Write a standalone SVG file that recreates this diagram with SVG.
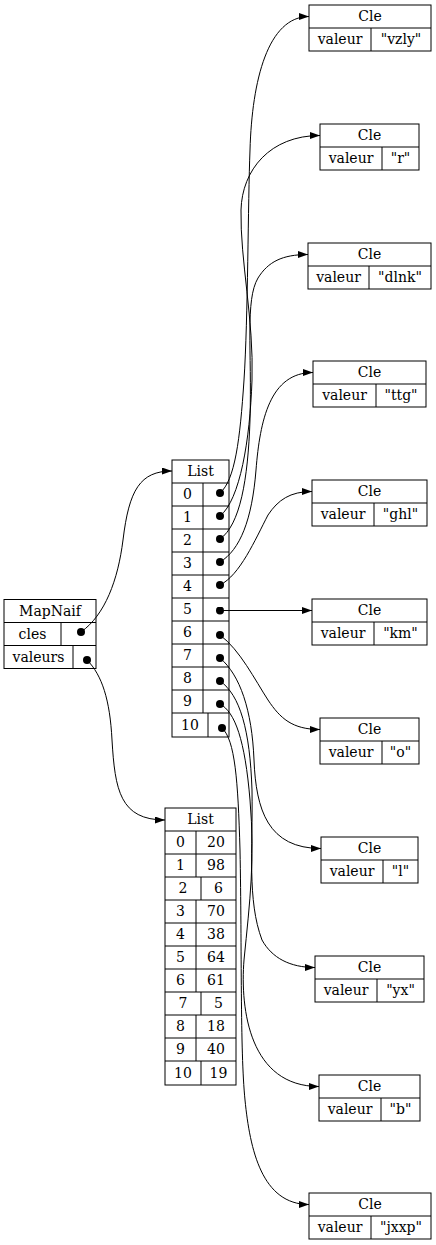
<svg xmlns="http://www.w3.org/2000/svg" width="436" height="1245" viewBox="0 0 436 1245">
<style>
.b{fill:#fff;stroke:#000;stroke-width:1}
.l{stroke:#000;stroke-width:1}
text{font-family:"DejaVu Serif",serif;font-size:14px;text-anchor:middle;fill:#000}
.e path{fill:none;stroke:#000;stroke-width:1;marker-start:url(#dot);marker-end:url(#arr)}
</style>
<defs>
<marker id="arr" markerWidth="10" markerHeight="7" refX="10" refY="3.5" orient="auto" markerUnits="userSpaceOnUse"><polygon points="0,0 10,3.5 0,7" fill="#000"/></marker>
<marker id="dot" markerWidth="8" markerHeight="8" refX="4" refY="4" markerUnits="userSpaceOnUse"><circle cx="4" cy="4" r="4" fill="#000"/></marker>
</defs>
<rect width="436" height="1245" fill="#fff"/>

<g id="MapNaif">
<rect class="b" x="4" y="599.5" width="92" height="69"/>
<line class="l" x1="4" y1="622.5" x2="96" y2="622.5"/>
<line class="l" x1="4" y1="645.5" x2="96" y2="645.5"/>
<line class="l" x1="61" y1="622.5" x2="61" y2="645.5"/>
<line class="l" x1="73" y1="645.5" x2="73" y2="668.5"/>
<text x="50" y="616">MapNaif</text>
<text x="32.5" y="639">cles</text>
<text x="38.5" y="662">valeurs</text>
</g>

<g id="ListCles">
<rect class="b" x="172" y="460" width="57" height="277"/>
<line class="l" x1="172" y1="483" x2="229" y2="483"/>
<line class="l" x1="172" y1="506" x2="229" y2="506"/>
<line class="l" x1="172" y1="529" x2="229" y2="529"/>
<line class="l" x1="172" y1="552" x2="229" y2="552"/>
<line class="l" x1="172" y1="575" x2="229" y2="575"/>
<line class="l" x1="172" y1="598" x2="229" y2="598"/>
<line class="l" x1="172" y1="621" x2="229" y2="621"/>
<line class="l" x1="172" y1="644" x2="229" y2="644"/>
<line class="l" x1="172" y1="667" x2="229" y2="667"/>
<line class="l" x1="172" y1="690" x2="229" y2="690"/>
<line class="l" x1="172" y1="713" x2="229" y2="713"/>
<line class="l" x1="203" y1="483" x2="203" y2="713"/>
<line class="l" x1="208" y1="713" x2="208" y2="737"/>
<text x="200.5" y="476">List</text>
<text x="187.5" y="499">0</text>
<text x="187.5" y="522">1</text>
<text x="187.5" y="545">2</text>
<text x="187.5" y="568">3</text>
<text x="187.5" y="591">4</text>
<text x="187.5" y="614">5</text>
<text x="187.5" y="637">6</text>
<text x="187.5" y="660">7</text>
<text x="187.5" y="683">8</text>
<text x="187.5" y="706">9</text>
<text x="190" y="730">10</text>
</g>

<g id="ListValeurs">
<rect class="b" x="165" y="808" width="71" height="277"/>
<line class="l" x1="165" y1="831" x2="236" y2="831"/>
<line class="l" x1="165" y1="854" x2="236" y2="854"/>
<line class="l" x1="165" y1="877" x2="236" y2="877"/>
<line class="l" x1="165" y1="900" x2="236" y2="900"/>
<line class="l" x1="165" y1="923" x2="236" y2="923"/>
<line class="l" x1="165" y1="946" x2="236" y2="946"/>
<line class="l" x1="165" y1="969" x2="236" y2="969"/>
<line class="l" x1="165" y1="992" x2="236" y2="992"/>
<line class="l" x1="165" y1="1015" x2="236" y2="1015"/>
<line class="l" x1="165" y1="1038" x2="236" y2="1038"/>
<line class="l" x1="165" y1="1061" x2="236" y2="1061"/>
<line class="l" x1="196" y1="831" x2="196" y2="877"/>
<line class="l" x1="201" y1="877" x2="201" y2="900"/>
<line class="l" x1="196" y1="900" x2="196" y2="992"/>
<line class="l" x1="201" y1="992" x2="201" y2="1015"/>
<line class="l" x1="196" y1="1015" x2="196" y2="1061"/>
<line class="l" x1="201" y1="1061" x2="201" y2="1085"/>
<text x="200.5" y="824">List</text>
<text x="180.5" y="847">0</text><text x="216" y="847">20</text>
<text x="180.5" y="870">1</text><text x="216" y="870">98</text>
<text x="183" y="893">2</text><text x="218.5" y="893">6</text>
<text x="180.5" y="916">3</text><text x="216" y="916">70</text>
<text x="180.5" y="939">4</text><text x="216" y="939">38</text>
<text x="180.5" y="962">5</text><text x="216" y="962">64</text>
<text x="180.5" y="985">6</text><text x="216" y="985">61</text>
<text x="183" y="1008">7</text><text x="218.5" y="1008">5</text>
<text x="180.5" y="1031">8</text><text x="216" y="1031">18</text>
<text x="180.5" y="1054">9</text><text x="216" y="1054">40</text>
<text x="183" y="1078">10</text><text x="218.5" y="1078">19</text>
</g>

<g id="Cle0">
<rect class="b" x="309" y="5" width="122" height="46"/>
<line class="l" x1="309" y1="28" x2="431" y2="28"/>
<line class="l" x1="371" y1="28" x2="371" y2="51"/>
<text x="370" y="21">Cle</text><text x="340" y="44">valeur</text><text x="401" y="44">"vzly"</text>
</g>
<g id="Cle1">
<rect class="b" x="320" y="124" width="99" height="46"/>
<line class="l" x1="320" y1="147" x2="419" y2="147"/>
<line class="l" x1="382" y1="147" x2="382" y2="170"/>
<text x="369.5" y="140">Cle</text><text x="351" y="163">valeur</text><text x="400.5" y="163">"r"</text>
</g>
<g id="Cle2">
<rect class="b" x="308" y="243" width="123" height="46"/>
<line class="l" x1="308" y1="266" x2="431" y2="266"/>
<line class="l" x1="369" y1="266" x2="369" y2="289"/>
<text x="369.5" y="259">Cle</text><text x="338.5" y="282">valeur</text><text x="400" y="282">"dlnk"</text>
</g>
<g id="Cle3">
<rect class="b" x="313" y="361" width="113" height="46"/>
<line class="l" x1="313" y1="384" x2="426" y2="384"/>
<line class="l" x1="376" y1="384" x2="376" y2="407"/>
<text x="369.5" y="377">Cle</text><text x="344.5" y="400">valeur</text><text x="401" y="400">"ttg"</text>
</g>
<g id="Cle4">
<rect class="b" x="312" y="480" width="115" height="46"/>
<line class="l" x1="312" y1="503" x2="427" y2="503"/>
<line class="l" x1="374" y1="503" x2="374" y2="526"/>
<text x="369.5" y="496">Cle</text><text x="343" y="519">valeur</text><text x="400.5" y="519">"ghl"</text>
</g>
<g id="Cle5">
<rect class="b" x="312" y="599" width="115" height="46"/>
<line class="l" x1="312" y1="622" x2="427" y2="622"/>
<line class="l" x1="374" y1="622" x2="374" y2="645"/>
<text x="369.5" y="615">Cle</text><text x="343" y="638">valeur</text><text x="400.5" y="638">"km"</text>
</g>
<g id="Cle6">
<rect class="b" x="320" y="718" width="99" height="46"/>
<line class="l" x1="320" y1="741" x2="419" y2="741"/>
<line class="l" x1="382" y1="741" x2="382" y2="764"/>
<text x="369.5" y="734">Cle</text><text x="351" y="757">valeur</text><text x="400.5" y="757">"o"</text>
</g>
<g id="Cle7">
<rect class="b" x="321" y="837" width="97" height="46"/>
<line class="l" x1="321" y1="860" x2="418" y2="860"/>
<line class="l" x1="383" y1="860" x2="383" y2="883"/>
<text x="369.5" y="853">Cle</text><text x="352" y="876">valeur</text><text x="400.5" y="876">"l"</text>
</g>
<g id="Cle8">
<rect class="b" x="315" y="956" width="109" height="46"/>
<line class="l" x1="315" y1="979" x2="424" y2="979"/>
<line class="l" x1="377" y1="979" x2="377" y2="1002"/>
<text x="369.5" y="972">Cle</text><text x="346" y="995">valeur</text><text x="400.5" y="995">"yx"</text>
</g>
<g id="Cle9">
<rect class="b" x="319" y="1075" width="101" height="46"/>
<line class="l" x1="319" y1="1098" x2="420" y2="1098"/>
<line class="l" x1="381" y1="1098" x2="381" y2="1121"/>
<text x="369.5" y="1091">Cle</text><text x="350" y="1114">valeur</text><text x="400.5" y="1114">"b"</text>
</g>
<g id="Cle10">
<rect class="b" x="309" y="1193" width="122" height="46"/>
<line class="l" x1="309" y1="1216" x2="431" y2="1216"/>
<line class="l" x1="371" y1="1216" x2="371" y2="1239"/>
<text x="370" y="1209">Cle</text><text x="340" y="1232">valeur</text><text x="401" y="1232">"jxxp"</text>
</g>

<g id="connectors" class="e">
<path d="M81,632 C105,615 118,580 123,540 C129,490 140,471 172,471"/>
<path d="M87,660 C102,675 110,700 112,740 C115,790 120,820 165,820"/>
<path d="M220,493 C235,480 240,440 244,380 C248,320 248,200 250,150 C252,80 268,16.5 309,16.5"/>
<path d="M220,516 C240,500 250,440 252,380 C254,320 240,260 241,210 C242,170 270,135.5 320,135.5"/>
<path d="M220,539 C240,525 248,480 250,420 C252,350 245,300 258,278 C268,262 282,254.5 308,254.5"/>
<path d="M220,562 C240,550 252,520 256,470 C260,420 270,372.5 313,372.5"/>
<path d="M220,585 C240,575 255,540 268,515 C278,500 290,491.5 312,491.5"/>
<path d="M220,610.5 L312,610.5"/>
<path d="M220,635 C240,650 255,680 268,700 C280,718 292,729.5 320,729.5"/>
<path d="M220,658 C240,675 252,710 254,760 C256,810 268,848.5 321,848.5"/>
<path d="M220,681 C240,695 250,730 252,790 C253,850 247,900 262,940 C272,958 290,967.5 315,967.5"/>
<path d="M220,704 C235,712 245,740 250,800 C255,860 250,900 244,960 C240,1010 250,1086.5 319,1086.5"/>
<path d="M222,728 C235,740 238,780 240,850 C242,950 240,1050 245,1100 C250,1150 262,1204.5 309,1204.5"/>
</g>
</svg>
